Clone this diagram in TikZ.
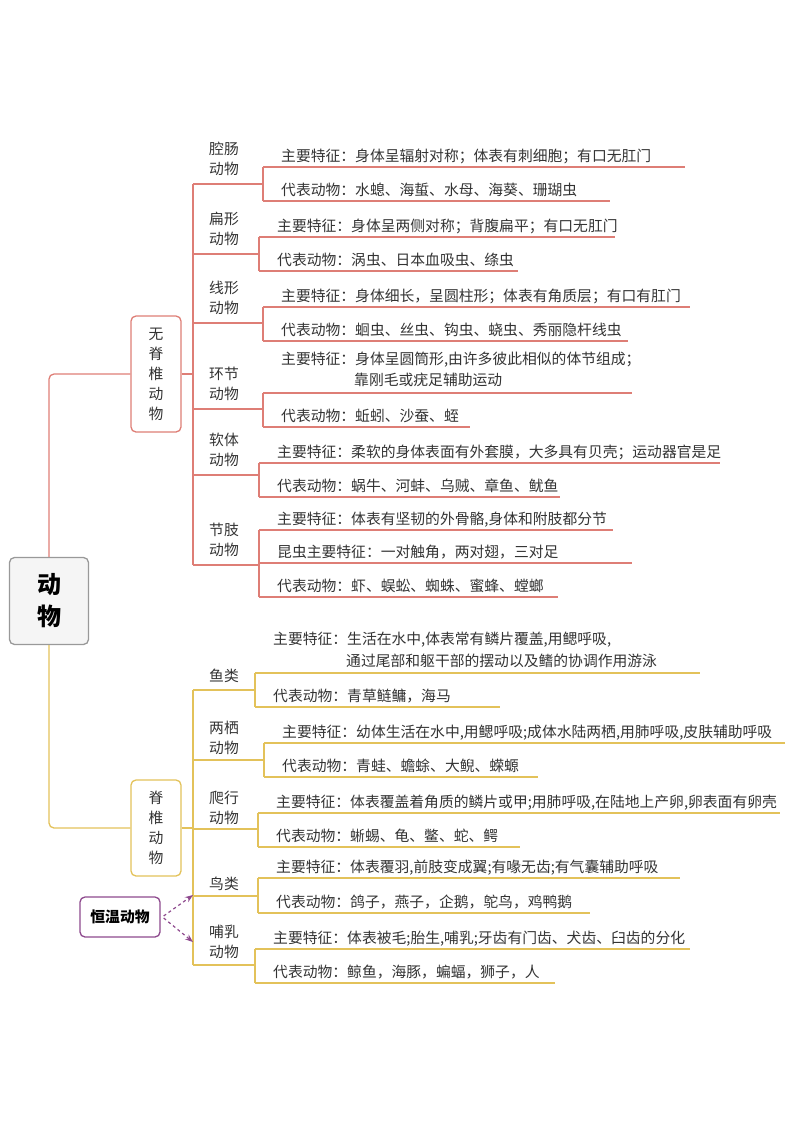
\documentclass[tikz,border=0pt]{standalone}
\usepackage{fontspec}
\setmainfont{Noto Sans CJK SC}
\usetikzlibrary{arrows.meta}
\definecolor{redl}{HTML}{DE7E76}
\definecolor{goldl}{HTML}{E3C25A}
\definecolor{purp}{HTML}{8E4A8E}
\definecolor{txt}{HTML}{333333}
\tikzset{
  leaftext/.style={inner sep=0pt,anchor=base west,text=txt,font=\fontsize{14.8}{17}\selectfont},
  cls/.style={inner sep=0pt,align=center,text=txt,font=\fontsize{14.8}{20}\selectfont},
  branch/.style={line width=1.3pt,rounded corners=5pt},
  bigbox/.style={draw,line width=1.3pt,rounded corners=5pt,fill=white,align=center,text=txt,
    font=\fontsize{14.8}{20}\selectfont,minimum width=50pt},
}
% one leaf: bracket x, line y, end x, text, name
\newcommand\leaf[6][redl]{%
  \node[leaftext] (#6) at (#2+18,#3-6) {#5};
  \draw[branch,#1] (#2,#3) -- (#4,#3);
}
\begin{document}
\begin{tikzpicture}[x=1pt,y=-1pt]
  \useasboundingbox (0,0) rectangle (793,1122);

  \node[draw=gray!80,fill=gray!8,line width=1.3pt,rounded corners=5pt,minimum width=79pt,
    minimum height=87pt,align=center,font=\fontsize{24}{32}\selectfont\bfseries] (root) at (49,601) {动\\物};
  \node[bigbox,draw=redl,minimum height=116pt] (inv) at (156,374) {无\\脊\\椎\\动\\物};
  \node[bigbox,draw=goldl,minimum height=96pt] (vert) at (156,828) {脊\\椎\\动\\物};
  \node[bigbox,draw=purp,minimum width=80pt,minimum height=40pt,font=\fontsize{14.8}{17}\selectfont\bfseries,text=black] (warm) at (120,917) {恒温动物};

  \draw[branch,redl] (root.north) |- (inv.west);
  \draw[branch,goldl] (root.south) |- (vert.west);

  % invertebrates
  \coordinate (ib) at (193,374);
  \draw[branch,redl] (inv.east) -- (ib);
  \draw[branch,redl] (193,184) -- (193,565);
  \foreach \nm/\txt/\yy/\bx in {qc/腔肠\\动物/184/263, bx/扁形\\动物/254/259, xx/线形\\动物/323/263,
      hj/环节\\动物/409/263, rt/软体\\动物/475/259, jz/节肢\\动物/565/259}{
    \node[cls] (\nm) at (224,\yy-25) {\txt};
    \draw[branch,redl] (193,\yy) -- (\bx,\yy);
  }
  \foreach \a/\b/\bx in {167/201/263, 237/271/259, 307/341/263, 393/427/263, 463/497/259, 530/597/259}
    \draw[redl,line width=1.3pt] (\bx,\a) -- (\bx,\b);

  \leaf{263}{167}{685}{主要特征：身体呈辐射对称；体表有刺细胞；有口无肛门}{qc1}
  \leaf{263}{201}{610}{代表动物：水螅、海蜇、水母、海葵、珊瑚虫}{qc2}
  \leaf{259}{237}{615}{主要特征：身体呈两侧对称；背腹扁平；有口无肛门}{bx1}
  \leaf{259}{271}{518}{代表动物：涡虫、日本血吸虫、绦虫}{bx2}
  \leaf{263}{307}{690}{主要特征：身体细长，呈圆柱形；体表有角质层；有口有肛门}{xx1}
  \leaf{263}{341}{628}{代表动物：蛔虫、丝虫、钩虫、蛲虫、秀丽隐杆线虫}{xx2}
  \leaf{263}{393}{632}{}{hj1}
  \node[leaftext] (hj1a) at (281,364) {主要特征：身体呈圆筒形,由许多彼此相似的体节组成；};
  \node[leaftext] (hj1b) at (354,385) {靠刚毛或疣足辅助运动};
  \leaf{263}{427}{470}{代表动物：蚯蚓、沙蚕、蛭}{hj2}
  \leaf{259}{463}{720}{主要特征：柔软的身体表面有外套膜，大多具有贝壳；运动器官是足}{rt1}
  \leaf{259}{497}{560}{代表动物：蜗牛、河蚌、乌贼、章鱼、鱿鱼}{rt2}
  \leaf{259}{530}{613}{主要特征：体表有坚韧的外骨骼,身体和附肢都分节}{jz1}
  \leaf{259}{563}{632}{昆虫主要特征：一对触角，两对翅，三对足}{jz2}
  \leaf{259}{597}{558}{代表动物：虾、蜈蚣、蜘蛛、蜜蜂、螳螂}{jz3}

  % vertebrates
  \coordinate (vb) at (193,828);
  \draw[branch,goldl] (vert.east) -- (vb);
  \draw[branch,goldl] (193,690) -- (193,965);
  \foreach \nm/\txt/\yy/\bx/\dy in {yl/鱼类/690/255/14, lq/两栖\\动物/760/264/22, px/爬行\\动物/829/258/21,
      nl/鸟类/896/258/12, br/哺乳\\动物/965/255/23}{
    \node[cls] (\nm) at (224,\yy-\dy) {\txt};
    \draw[branch,goldl] (193,\yy) -- (\bx,\yy);
  }
  \foreach \a/\b/\bx in {673/707/255, 743/777/264, 813/847/258, 878/913/258, 949/983/255}
    \draw[goldl,line width=1.3pt] (\bx,\a) -- (\bx,\b);

  \leaf[goldl]{255}{673}{700}{}{yl1}
  \node[leaftext] (yl1a) at (273,644) {主要特征：生活在水中,体表常有鳞片覆盖,用鳃呼吸,};
  \node[leaftext] (yl1b) at (346,666) {通过尾部和躯干部的摆动以及鳍的协调作用游泳};
  \leaf[goldl]{255}{707}{500}{代表动物：青草鲢鳙，海马}{yl2}
  \leaf[goldl]{264}{743}{785}{主要特征：幼体生活在水中,用鳃呼吸;成体水陆两栖,用肺呼吸,皮肤辅助呼吸}{lq1}
  \leaf[goldl]{264}{777}{538}{代表动物：青蛙、蟾蜍、大鲵、蝾螈}{lq2}
  \leaf[goldl]{258}{813}{780}{主要特征：体表覆盖着角质的鳞片或甲;用肺呼吸,在陆地上产卵,卵表面有卵壳}{px1}
  \leaf[goldl]{258}{847}{520}{代表动物：蜥蜴、龟、鳖、蛇、鳄}{px2}
  \leaf[goldl]{258}{878}{680}{主要特征：体表覆羽,前肢变成翼;有喙无齿;有气囊辅助呼吸}{nl1}
  \leaf[goldl]{258}{913}{590}{代表动物：鸽子，燕子，企鹅，鸵鸟，鸡鸭鹅}{nl2}
  \leaf[goldl]{255}{949}{690}{主要特征：体表被毛;胎生,哺乳;牙齿有门齿、犬齿、臼齿的分化}{br1}
  \leaf[goldl]{255}{983}{555}{代表动物：鲸鱼，海豚，蝙蝠，狮子，人}{br2}

  \coordinate (nlp) at (193,895);
  \coordinate (brp) at (193,942);
  \draw[purp,dashed,line width=1.2pt,-{Stealth[length=8pt,width=6pt]}] (warm.east) ++(3,-1) -- (nlp);
  \draw[purp,dashed,line width=1.2pt,-{Stealth[length=8pt,width=6pt]}] (warm.east) ++(3,1) -- (brp);
\end{tikzpicture}
\end{document}
